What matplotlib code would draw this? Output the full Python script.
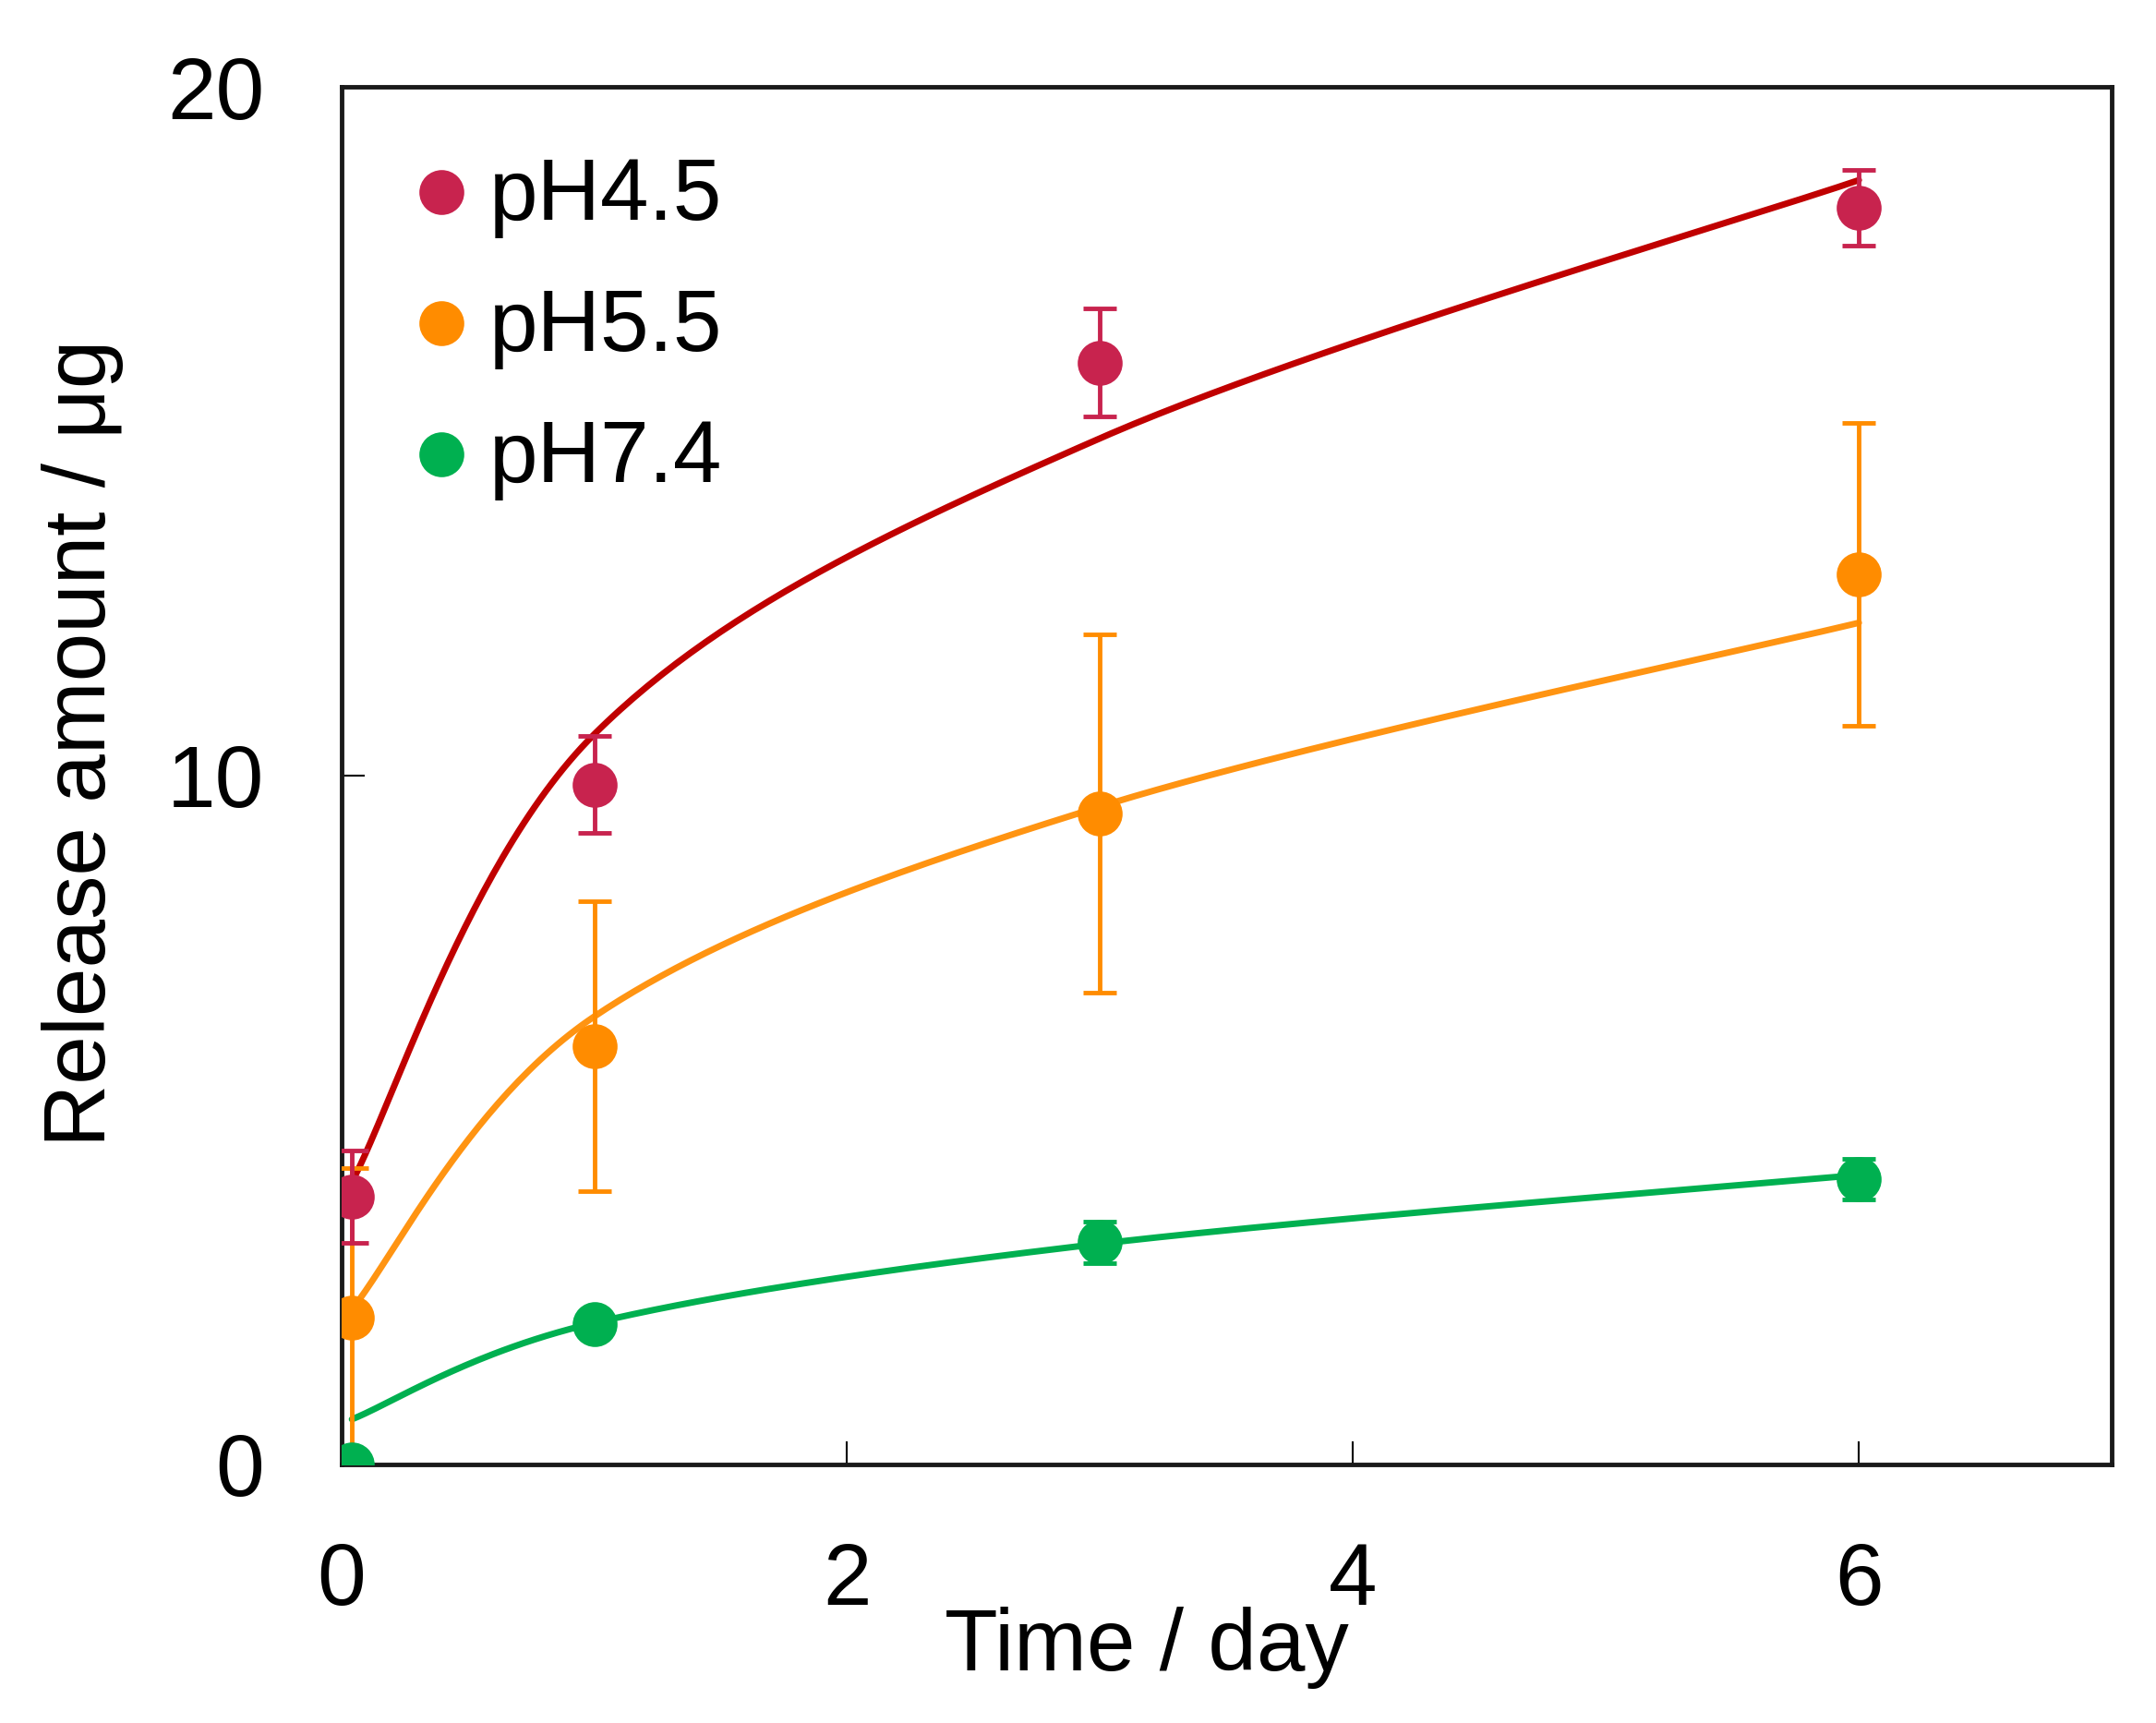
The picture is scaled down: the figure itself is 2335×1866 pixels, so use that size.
import numpy as np
import matplotlib
matplotlib.use("Agg")
import matplotlib.pyplot as plt

plt.rcParams['font.family'] = ['Liberation Sans', 'DejaVu Sans']

# ---- data ----
time_days = [0.042, 1, 3, 6]
labels = ["pH4.5", "pH5.5", "pH7.4"]

mean_45 = [3.88, 9.87, 16.0, 18.25]
err_45 = [0.67, 0.70, 0.78, 0.55]
mean_55 = [2.13, 6.07, 9.45, 12.92]
err_55 = [2.17, 2.1, 2.6, 2.2]
mean_74 = [0.0, 2.03, 3.22, 4.14]
err_74 = [0.0, 0.15, 0.3, 0.3]

# fitted-curve knots (smoothed line drawn through them)
fit_45 = [4.1, 10.6, 14.9, 18.65]
fit_55 = [2.25, 6.5, 9.55, 12.22]
fit_74 = [0.65, 2.05, 3.2, 4.2]

marker_colors = ["#C8234E", "#FF8C00", "#00B050"]
line_colors = ["#C00000", "#FF9412", "#00B050"]

x_ticks = [0, 2, 4, 6]
y_ticks = [0, 10, 20]


def excel_smooth(xs, ys, n=60):
    P = np.column_stack([xs, ys]).astype(float)
    m = len(P)
    out = []
    for i in range(m - 1):
        pm = P[i - 1] if i > 0 else P[i]
        pp = P[i + 2] if i + 2 < m else P[i + 1]
        c1 = P[i] + (P[i + 1] - pm) / 6.0
        c2 = P[i + 1] - (pp - P[i]) / 6.0
        t = np.linspace(0, 1, n)[:, None]
        seg = ((1 - t) ** 3) * P[i] + 3 * ((1 - t) ** 2) * t * c1 + 3 * (1 - t) * t ** 2 * c2 + t ** 3 * P[i + 1]
        out.append(seg if i == 0 else seg[1:])
    out = np.vstack(out)
    return out[:, 0], out[:, 1]


fig = plt.figure(figsize=(23.35, 18.66), dpi=100)
ax = fig.add_axes([0.1583, 0.1503, 0.8212, 0.7991])

means = [mean_45, mean_55, mean_74]
errs = [err_45, err_55, err_74]
fits = [fit_45, fit_55, fit_74]

# fitted lines
for f, lc in zip(fits, line_colors):
    sx, sy = excel_smooth(time_days, f)
    ax.plot(sx, sy, color=lc, lw=5.0, zorder=2, solid_capstyle='round')

# error bars + markers (draw order: pH5.5, pH4.5, pH7.4 so green sits on top at 0)
for idx in [1, 0, 2]:
    ax.errorbar(time_days, means[idx], yerr=errs[idx], fmt='none',
                ecolor=marker_colors[idx], elinewidth=3.5, capsize=13,
                capthick=3.5, zorder=3)
    ax.plot(time_days, means[idx], linestyle='none', marker='o', markersize=35,
            markerfacecolor=marker_colors[idx], markeredgewidth=0, zorder=4)

ax.set_xlim(0, 7)
ax.set_ylim(0, 20)
ax.set_xticks(x_ticks)
ax.set_yticks(y_ticks)
ax.set_xticklabels([str(v) for v in x_ticks])
ax.set_yticklabels([str(v) for v in y_ticks])
ax.tick_params(axis='both', direction='in', length=18, width=1.5,
               labelsize=68, pad=60, colors='black')
for sp in ax.spines.values():
    sp.set_linewidth(3.5)
    sp.set_color('#1a1a1a')

# legend (manual)
leg_y = [0.9238, 0.8286, 0.7334]
for lab, mc, yy in zip(labels, marker_colors, leg_y):
    ax.plot([0.0565], [yy], transform=ax.transAxes, marker='o', markersize=35,
            markerfacecolor=mc, markeredgewidth=0, linestyle='none',
            clip_on=False, zorder=5)
    ax.text(0.0837, yy - 0.0201, lab, transform=ax.transAxes, fontsize=68,
            ha='left', va='baseline', color='black')

fig.text(0.532, 0.0305, "Time / day", fontsize=68, ha='center', va='baseline')
fig.text(0.0385, 0.5686, "Release amount / μg", fontsize=68, rotation=90,
         ha='center', va='center')

fig.savefig("out.png", dpi=100)
